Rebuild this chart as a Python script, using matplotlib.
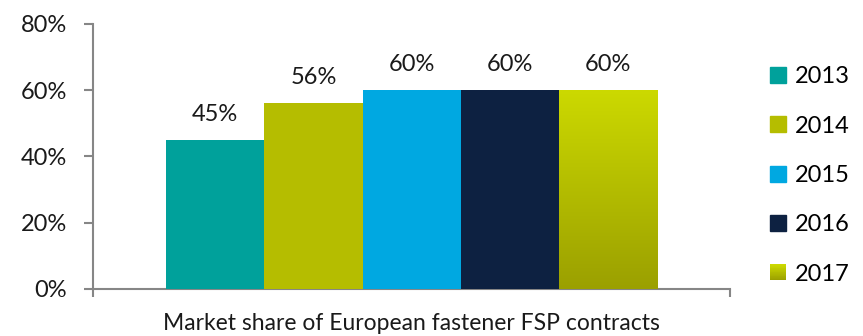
import matplotlib.pyplot as plt
import matplotlib.patches as mpatches
from matplotlib.legend_handler import HandlerPatch
from matplotlib.colors import LinearSegmentedColormap
import numpy as np

plt.rcParams['font.family'] = ['Lato', 'DejaVu Sans']

years = ['2013', '2014', '2015', '2016', '2017']
shares = [45, 56, 60, 60, 60]
colors = ['#00A19B', '#B5BD00', '#00A8E1', '#0D2141', '#C2CC00']
category = 'Market share of European fastener FSP contracts'

grad_top = '#CCD900'
grad_bottom = '#9BA000'
grad_cmap = LinearSegmentedColormap.from_list('g', [grad_bottom, grad_top])


class GradientHandler(HandlerPatch):
    # legend square drawn as thin stacked strips to fake the gradient
    def create_artists(self, legend, orig_handle, xdescent, ydescent,
                       width, height, fontsize, trans):
        n = 20
        arts = []
        for i in range(n):
            r = mpatches.Rectangle((-xdescent, -ydescent + height * i / n),
                                   width, height / n + 0.3,
                                   facecolor=grad_cmap(i / (n - 1)),
                                   edgecolor='none', transform=trans)
            arts.append(r)
        return arts


fig = plt.figure(figsize=(8.63, 3.36), dpi=100)
ax = fig.add_axes([0.1078, 0.140, 0.7382, 0.7886])

width = 0.154
offsets = (np.arange(len(years)) - 2) * width
bars = []
for i, (yr, val) in enumerate(zip(years, shares)):
    b = ax.bar(offsets[i], val, width=width, color=colors[i], label=yr, zorder=3)
    bars.append(b[0])
    ax.annotate(f'{val}%', (offsets[i], val), xytext=(0, 11),
                textcoords='offset points', ha='center', va='bottom',
                fontsize=17, color='#1a1a1a')

# gradient fill for the last bar
last = bars[-1]
x0, y0 = last.get_x(), last.get_y()
grad = np.linspace(0, 1, 256).reshape(-1, 1)
im = ax.imshow(grad, cmap=grad_cmap, origin='lower', aspect='auto',
               extent=(x0, x0 + last.get_width(), y0, y0 + last.get_height()),
               zorder=3.5)
im.set_clip_path(last)
last.set_facecolor('none')

ax.set_xlim(-0.5, 0.5)
ax.set_ylim(0, 80)
ax.set_yticks([0, 20, 40, 60, 80])
ax.set_yticklabels([f'{v}%' for v in [0, 20, 40, 60, 80]])
ax.set_xticks([0])
ax.set_xticklabels([category])
ax.set_xticks([-0.5, 0.5], minor=True)

for s in ['top', 'right']:
    ax.spines[s].set_visible(False)
for s in ['left', 'bottom']:
    ax.spines[s].set_color('#868686')
    ax.spines[s].set_linewidth(1.5)

ax.tick_params(axis='y', length=6.5, width=1.5, color='#868686', pad=12,
               labelsize=17, labelcolor='#1a1a1a')
ax.tick_params(axis='x', which='major', length=0, pad=17, labelsize=16.5,
               labelcolor='#1a1a1a')
ax.tick_params(axis='x', which='minor', length=6, width=1.5, color='#868686')

handles = [mpatches.Patch(color=c) for c in colors]
leg = fig.legend(handles, years, loc='upper left',
                 bbox_to_anchor=(0.868, 0.866), frameon=False,
                 fontsize=17, handlelength=0.66, handleheight=0.66,
                 handletextpad=0.4, labelspacing=1.2,
                 handler_map={handles[-1]: GradientHandler()})

fig.savefig('out.png', dpi=100)
